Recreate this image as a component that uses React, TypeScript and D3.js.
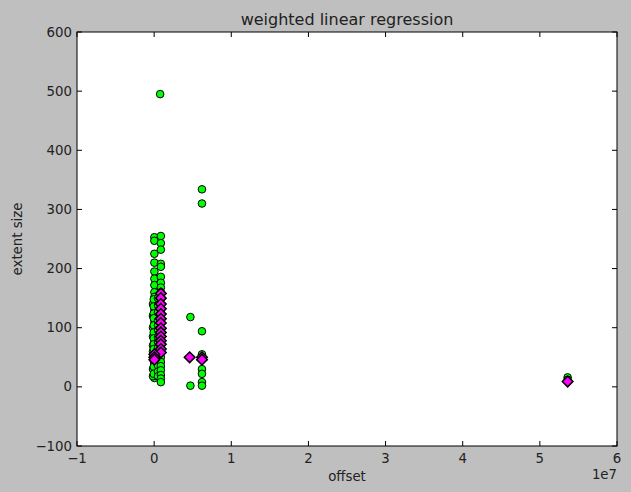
import React from 'react';
import * as d3 from 'd3';

// green circles: raw offset (x) and extent size (y)
const greenX = [
  3e4, 3e4, 3e4, 3e4, 3e4, 3e4, 3e4, 3e4, 3e4, 3e4, 3e4, 3e4, 3e4, 3e4, 3e4, 3e4,
  3e4, 3e4, 3e4, 3e4, 3e4, 3e4, 3e4, 3e4, 3e4, 3e4, 3e4, 3e4, 3e4, 3e4, 3e4, 3e4,
  -1.5e5, -1.5e5, -1.5e5, -1.5e5, -1.5e5, -1.5e5, -1.5e5, -1.5e5, -1.5e5,
  -5e4, -5e4, -5e4, -5e4, -5e4, -5e4, -5e4, -5e4, -5e4, -5e4, -5e4, -5e4, -5e4,
  5e5, 5e5, 5e5, 5e5, 5e5, 5e5, 5e5, 5e5, 5e5, 5e5, 5e5, 5e5, 5e5, 5e5,
  8.7e5, 8.7e5, 8.7e5, 8.7e5, 8.7e5, 8.7e5, 8.7e5, 8.7e5, 8.7e5, 8.7e5, 8.7e5, 8.7e5, 8.7e5,
  8.7e5, 8.7e5, 8.7e5, 8.7e5, 8.7e5, 8.7e5, 8.7e5, 8.7e5, 8.7e5, 8.7e5, 8.7e5, 8.7e5, 8.7e5,
  7.8e5,
  4.7e6, 4.7e6,
  6.2e6, 6.2e6, 6.2e6, 6.2e6, 6.2e6, 6.2e6, 6.2e6, 6.2e6, 6.2e6,
  5.36e7, 5.36e7,
];
const greenY = [
  253, 247, 225, 210, 195, 183, 172, 160, 152, 145, 140, 133, 127, 120, 113, 107,
  100, 95, 88, 80, 75, 68, 62, 58, 53, 48, 43, 38, 30, 25, 20, 15,
  140, 120, 100, 85, 70, 60, 50, 30, 18,
  148, 136, 124, 116, 104, 92, 82, 72, 64, 52, 44, 34, 22,
  150, 138, 126, 112, 104, 96, 84, 76, 66, 56, 46, 36, 26, 18,
  255, 243, 232, 208, 203, 186, 176, 168, 160, 150, 140, 130, 118,
  108, 98, 88, 78, 68, 58, 50, 42, 35, 28, 20, 14, 8,
  495,
  118, 2,
  334, 310, 94, 55, 48, 30, 22, 8, 2,
  16, 12,
];

// magenta diamonds: weighted fit points
const fitX = [
  8.7e5, 8.7e5, 8.7e5, 8.7e5, 8.7e5, 8.7e5, 8.7e5, 8.7e5, 8.7e5, 8.7e5, 8.7e5, 8.7e5, 8.7e5, 8.7e5,
  3e4, 3e4, 3e4,
  4.6e6, 6.2e6, 6.2e6, 5.36e7,
];
const fitY = [
  158, 150, 140, 132, 123, 115, 108, 99, 92, 85, 78, 72, 64, 58,
  55, 50, 46,
  50, 50, 46, 9,
];

const xTicks = [-1, 0, 1, 2, 3, 4, 5, 6];
const yTicks = [-100, 0, 100, 200, 300, 400, 500, 600];

const W = 631, H = 492;
const M = { left: 77, right: 617, top: 32, bottom: 446 };
const FONT = 'DejaVu Sans, sans-serif';

export default function App() {
  const x = d3.scaleLinear().domain([-1e7, 6e7]).range([M.left, M.right]);
  const y = d3.scaleLinear().domain([-100, 600]).range([M.bottom, M.top]);
  const fmt = (v: number) => (v < 0 ? '\u2212' + Math.abs(v) : String(v));
  const tl = 5;
  const diamond = d3.symbol().type(d3.symbolDiamond2).size(72)();

  return (
    <svg width={W} height={H} style={{ position: 'absolute', left: 0, top: 0, background: '#bfbfbf' }}>
      <rect x={0} y={0} width={W} height={H} fill="#bfbfbf" />
      <rect x={M.left} y={M.top} width={M.right - M.left} height={M.bottom - M.top} fill="#fff" />

      {greenX.map((v, i) => (
        <circle key={'g' + i} cx={x(v)} cy={y(greenY[i])} r={3.8} fill="#00ff00" stroke="#000" strokeWidth={1} />
      ))}
      {fitX.map((v, i) => (
        <path key={'m' + i} d={diamond} transform={`translate(${x(v)},${y(fitY[i])})`}
          fill="#ff00ff" stroke="#000" strokeWidth={1.5} />
      ))}

      {xTicks.map(t => (
        <g key={'xt' + t}>
          <line x1={x(t * 1e7)} x2={x(t * 1e7)} y1={M.bottom} y2={M.bottom - tl} stroke="#000" />
          <line x1={x(t * 1e7)} x2={x(t * 1e7)} y1={M.top} y2={M.top + tl} stroke="#000" />
          <text x={x(t * 1e7)} y={M.bottom + 17} textAnchor="middle" fontFamily={FONT} fontSize={13.3} fill="#222">{fmt(t)}</text>
        </g>
      ))}
      {yTicks.map(t => (
        <g key={'yt' + t}>
          <line x1={M.left} x2={M.left + tl} y1={y(t)} y2={y(t)} stroke="#000" />
          <line x1={M.right} x2={M.right - tl} y1={y(t)} y2={y(t)} stroke="#000" />
          <text x={M.left - 5} y={y(t) + 4.5} textAnchor="end" fontFamily={FONT} fontSize={13.3} fill="#222">{fmt(t)}</text>
        </g>
      ))}

      <rect x={M.left} y={M.top} width={M.right - M.left} height={M.bottom - M.top} fill="none" stroke="#000" strokeWidth={1} />

      <text x={M.right} y={479} textAnchor="end" fontFamily={FONT} fontSize={13.3} fill="#222">1e7</text>
      <text x={(M.left + M.right) / 2} y={25} textAnchor="middle" fontFamily={FONT} fontSize={16} fill="#222">weighted linear regression</text>
      <text x={(M.left + M.right) / 2} y={481} textAnchor="middle" fontFamily={FONT} fontSize={13.3} fill="#222">offset</text>
      <text transform={`translate(22,${(M.top + M.bottom) / 2}) rotate(-90)`} textAnchor="middle" fontFamily={FONT} fontSize={13.3} fill="#222">extent size</text>
    </svg>
  );
}
